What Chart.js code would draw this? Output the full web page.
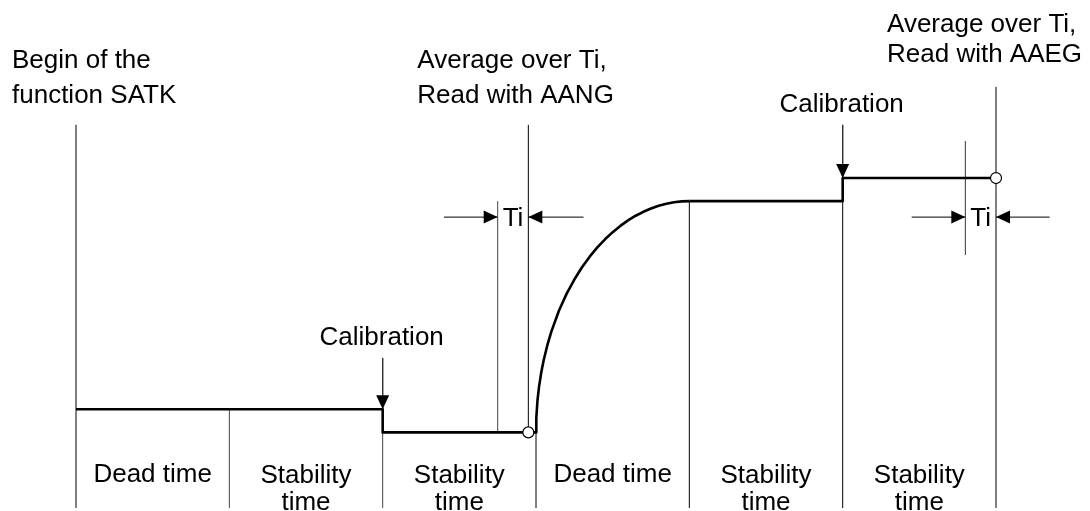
<!DOCTYPE html>
<html>
<head>
<meta charset="utf-8">
<style>
  html, body { margin: 0; padding: 0; background: #fff; }
  #wrap { width: 1090px; height: 511px; }
</style>
</head>
<body>
<div id="wrap"><canvas id="diagram" width="1090" height="511"></canvas></div>
<script src="https://cdn.jsdelivr.net/npm/chart.js@4/dist/chart.umd.min.js"></script>
<script>
// time in phase units, one phase = one section between boundary lines
const phaseEdges = [0, 1, 2, 3, 4, 5, 6]
const phaseNames = ['Dead time', ['Stability', 'time'], ['Stability', 'time'], 'Dead time', ['Stability', 'time'], ['Stability', 'time']]

// signal (arbitrary units)
const stepT = [0, 2, 2, 3]
const stepV = [3, 3, 2, 2]
const riseT = [3, 3.002, 3.01, 3.02, 3.035, 3.05, 3.075, 3.1, 3.15, 3.2, 3.25, 3.3, 3.35, 3.4, 3.45, 3.5, 3.55, 3.6, 3.65, 3.7, 3.75, 3.8, 3.85, 3.9, 3.95, 4]
const riseV = [2, 2.63, 3.41, 3.99, 4.62, 5.12, 5.8, 6.36, 7.27, 8.0, 8.61, 9.14, 9.6, 10.0, 10.35, 10.66, 10.93, 11.17, 11.37, 11.54, 11.68, 11.8, 11.89, 11.95, 11.99, 12]
const settleT = [4, 5, 5, 6]
const settleV = [12, 12, 13, 13]

// events
const calibT = [2, 5]
const calibFrom = [5.22, 15.3]
const calibTo = [3, 13]
const readT = [2.95, 6]
const readV = [2, 13]
const tiStartT = [2.75, 5.8]
const tiArrowV = 11.31
const tiArrowFrom = [[2.4, 3.31], [5.45, 6.35]]

const notes = [
  ['Begin of the', 'function SATK'],
  ['Average over Ti,', 'Read with AANG'],
  ['Average over Ti,', 'Read with AAEG'],
]

const lineBottom = -1.27

function seg(ts, vs, extra) {
  return Object.assign({
    data: ts.map((t, i) => ({ x: t, y: vs[i] })),
    showLine: true,
    pointRadius: 0,
    borderColor: '#000',
    borderWidth: 1,
    tension: 0,
    order: 3,
  }, extra || {})
}

const datasets = []

// read-out circles on top
datasets.push({
  data: readT.map((t, i) => ({ x: t, y: readV[i] })),
  showLine: false,
  pointStyle: 'circle',
  pointRadius: 5.5,
  pointBackgroundColor: '#fff',
  pointBorderColor: '#000',
  pointBorderWidth: 1.2,
  order: 0,
})

// signal
const thick = { borderWidth: 2.6, order: 1, borderJoinStyle: 'round' }
datasets.push(seg(stepT, stepV, thick))
datasets.push(seg(riseT, riseV, thick))
datasets.push(seg(settleT, settleV, thick))

// phase boundaries
const edgeTops = [15.3, stepV[0], stepV[2], stepV[3], riseV[riseV.length - 1], settleV[1], 16.94]
phaseEdges.forEach((t, i) => {
  datasets.push(seg([t, t], [lineBottom, edgeTops[i]], { borderColor: i === 0 || i > 2 ? '#000' : '#444' }))
})

// Ti window lines
datasets.push(seg([tiStartT[0], tiStartT[0]], [stepV[3], riseV[riseV.length - 1]], { borderColor: '#444' }))
datasets.push(seg([readT[0], readT[0]], [readV[0], 15.3]))
datasets.push(seg([tiStartT[1], tiStartT[1]], [9.67, 14.6], { borderColor: '#333' }))

// calibration arrows
calibT.forEach((t, i) => {
  datasets.push(seg([t, t], [calibFrom[i], calibTo[i]], { borderColor: '#333', arrow: true }))
})

// Ti arrows
tiArrowFrom.forEach((pair, i) => {
  datasets.push(seg([pair[0], tiStartT[i]], [tiArrowV, tiArrowV], { arrow: true }))
  datasets.push(seg([pair[1], readT[i]], [tiArrowV, tiArrowV], { arrow: true }))
})

const arrowPlugin = {
  id: 'arrows',
  afterDatasetsDraw(chart) {
    const ctx = chart.ctx
    chart.data.datasets.forEach((ds, i) => {
      if (!ds.arrow) return
      const pts = chart.getDatasetMeta(i).data
      const a = pts[pts.length - 2]
      const b = pts[pts.length - 1]
      const ang = Math.atan2(b.y - a.y, b.x - a.x)
      ctx.save()
      ctx.translate(b.x, b.y)
      ctx.rotate(ang)
      ctx.beginPath()
      ctx.moveTo(0, 0)
      ctx.lineTo(-14, -6.5)
      ctx.lineTo(-14, 6.5)
      ctx.closePath()
      ctx.fillStyle = '#000'
      ctx.fill()
      ctx.restore()
    })
  }
}

const textPlugin = {
  id: 'texts',
  afterDatasetsDraw(chart) {
    const { ctx, chartArea } = chart
    const xs = chart.scales.x
    const ys = chart.scales.y
    ctx.save()
    ctx.fillStyle = '#000'
    ctx.font = '26px "Liberation Sans", Arial, sans-serif'
    ctx.textBaseline = 'alphabetic'

    // phase names under the diagram
    ctx.textAlign = 'center'
    phaseNames.forEach((name, i) => {
      const cx = (xs.getPixelForValue(phaseEdges[i]) + xs.getPixelForValue(phaseEdges[i + 1])) / 2
      const base = chartArea.bottom - 29
      if (Array.isArray(name)) {
        name.forEach((ln, j) => ctx.fillText(ln, cx, base + 1 + j * 27))
      } else {
        ctx.fillText(name, cx, base)
      }
    })

    // calibration labels
    calibT.forEach((t, i) => {
      ctx.fillText('Calibration', xs.getPixelForValue(t) - 1, ys.getPixelForValue(calibFrom[i]) - 13)
    })

    // Ti labels
    tiStartT.forEach((t, i) => {
      const cx = (xs.getPixelForValue(t) + xs.getPixelForValue(readT[i])) / 2
      ctx.fillText('Ti', cx, ys.getPixelForValue(tiArrowV) + 9)
    })

    // notes above
    ctx.textAlign = 'left'
    const noteAnchors = [
      { x: xs.getPixelForValue(phaseEdges[0]) - 64, base: [68, 103] },
      { x: xs.getPixelForValue(readT[0]) - 111, base: [68, 103] },
      { x: xs.getPixelForValue(readT[1]) - 109, base: [32, 62] },
    ]
    notes.forEach((lines, i) => {
      lines.forEach((ln, j) => ctx.fillText(ln, noteAnchors[i].x, noteAnchors[i].base[j]))
    })
    ctx.restore()
  }
}

new Chart(document.getElementById('diagram'), {
  type: 'scatter',
  data: { datasets },
  options: {
    responsive: false,
    devicePixelRatio: 1,
    animation: false,
    events: [],
    layout: { padding: 0, autoPadding: false },
    scales: {
      x: { type: 'linear', min: -0.4957, max: 6.613, display: false },
      y: { type: 'linear', min: -1.4, max: 20.7, display: false },
    },
    plugins: {
      legend: { display: false },
      tooltip: { enabled: false },
    },
  },
  plugins: [arrowPlugin, textPlugin],
})
</script>
</body>
</html>
